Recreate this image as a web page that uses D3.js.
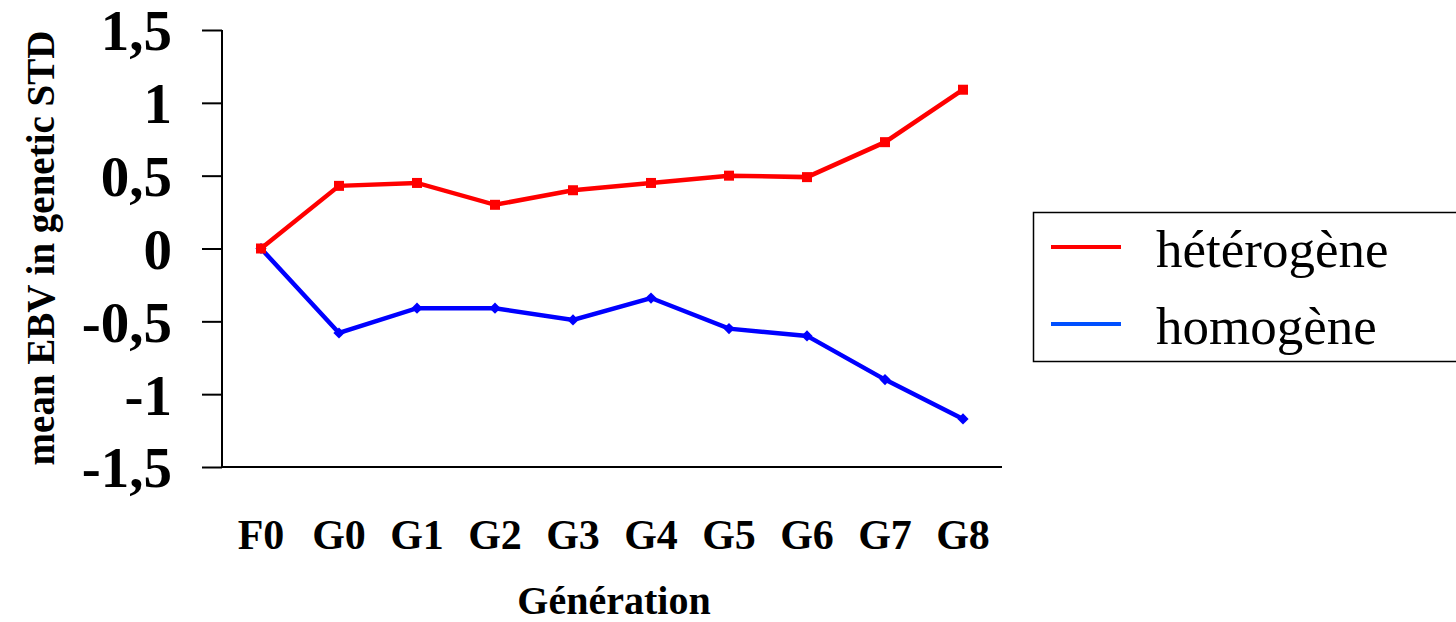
<!DOCTYPE html>
<html>
<head>
<meta charset="utf-8">
<script src="https://cdn.jsdelivr.net/npm/d3@7"></script>
<style>
  body { margin: 0; background: #fff; }
  text { font-family: "Liberation Serif", "Times New Roman", serif; }
</style>
</head>
<body>
<script>
let generations = ['F0', 'G0', 'G1', 'G2', 'G3', 'G4', 'G5', 'G6', 'G7', 'G8'];
let heterogene = [0, 0.43, 0.45, 0.30, 0.40, 0.45, 0.50, 0.49, 0.73, 1.09];
let homogene = [0, -0.58, -0.41, -0.41, -0.49, -0.34, -0.55, -0.60, -0.90, -1.17];
let yTicks = [-1.5, -1, -0.5, 0, 0.5, 1, 1.5];
let seriesNames = ['hétérogène', 'homogène'];

let margin = { top: 30, right: 454, bottom: 155, left: 222 };
let width = 1456 - margin.left - margin.right;
let height = 622 - margin.top - margin.bottom;

let svg = d3.select('body').append('svg')
    .attr('width', 1456)
    .attr('height', 622);

let g = svg.append('g')
    .attr('transform', 'translate(' + margin.left + ',' + margin.top + ')');

// x is a band scale, points sit on band centres
let x = d3.scaleBand().domain(generations).range([0, width]);
let y = d3.scaleLinear().domain([-1.5, 1.5]).range([height, 0]);

let fmt = function(d) { return String(d).replace('.', ','); };

// y axis
let yAxis = g.append('g')
    .call(d3.axisLeft(y).tickValues(yTicks).tickFormat(fmt).tickSize(20).tickPadding(30));
yAxis.select('.domain').attr('stroke', '#000').attr('stroke-width', 2).attr('d', 'M0,0V' + height);
yAxis.selectAll('.tick line').attr('stroke-width', 2);
yAxis.selectAll('.tick text')
    .attr('font-family', '"Liberation Serif", serif')
    .attr('font-size', 57)
    .attr('font-weight', 'bold')
    .attr('dy', '0.35em');

// x axis
let xAxis = g.append('g')
    .attr('transform', 'translate(0,' + height + ')')
    .call(d3.axisBottom(x).tickSize(0).tickPadding(52));
xAxis.select('.domain').attr('stroke', '#000').attr('stroke-width', 2).attr('d', 'M0,0H' + width);
xAxis.selectAll('.tick text')
    .attr('font-family', '"Liberation Serif", serif')
    .attr('font-size', 42)
    .attr('font-weight', 'bold');

// axis titles
svg.append('text')
    .attr('x', 614)
    .attr('y', 614)
    .attr('text-anchor', 'middle')
    .attr('font-family', '"Liberation Serif", serif')
    .attr('font-size', 40)
    .attr('font-weight', 'bold')
    .text('Génération');

svg.append('text')
    .attr('transform', 'translate(54,248) rotate(-90)')
    .attr('text-anchor', 'middle')
    .attr('font-family', '"Liberation Serif", serif')
    .attr('font-size', 39)
    .attr('font-weight', 'bold')
    .text('mean EBV in genetic STD');

let line = d3.line()
    .x(function(d, i) { return x(generations[i]) + x.bandwidth() / 2; })
    .y(function(d) { return y(d); });

// homogène first, hétérogène drawn over it
g.append('path')
    .datum(homogene)
    .attr('fill', 'none')
    .attr('stroke', '#0000ff')
    .attr('stroke-width', 4.5)
    .attr('d', line);

g.selectAll('.diamond').data(homogene).enter().append('path')
    .attr('class', 'diamond')
    .attr('fill', '#0000ff')
    .attr('transform', function(d, i) {
      return 'translate(' + (x(generations[i]) + x.bandwidth() / 2) + ',' + y(d) + ')';
    })
    .attr('d', d3.symbol(d3.symbolDiamond2, 80));

g.append('path')
    .datum(heterogene)
    .attr('fill', 'none')
    .attr('stroke', '#ff0000')
    .attr('stroke-width', 4.5)
    .attr('d', line);

g.selectAll('.square').data(heterogene).enter().append('rect')
    .attr('class', 'square')
    .attr('fill', '#ff0000')
    .attr('x', function(d, i) { return x(generations[i]) + x.bandwidth() / 2 - 5; })
    .attr('y', function(d) { return y(d) - 5; })
    .attr('width', 10)
    .attr('height', 10);

// legend
let legend = svg.append('g');
legend.append('rect')
    .attr('x', 1033.5)
    .attr('y', 212.5)
    .attr('width', 430)
    .attr('height', 149)
    .attr('fill', 'none')
    .attr('stroke', '#000')
    .attr('stroke-width', 1.5);

let legendColors = ['#ff0000', '#0050ff'];
seriesNames.forEach(function(name, i) {
  let ly = 247 + i * 77;
  legend.append('line')
      .attr('x1', 1051).attr('x2', 1121)
      .attr('y1', ly).attr('y2', ly)
      .attr('stroke', legendColors[i])
      .attr('stroke-width', 4);
  legend.append('text')
      .attr('x', 1156)
      .attr('y', ly + 20)
      .attr('font-family', '"Liberation Serif", serif')
      .attr('font-size', 53)
      .text(name);
});
</script>
</body>
</html>
